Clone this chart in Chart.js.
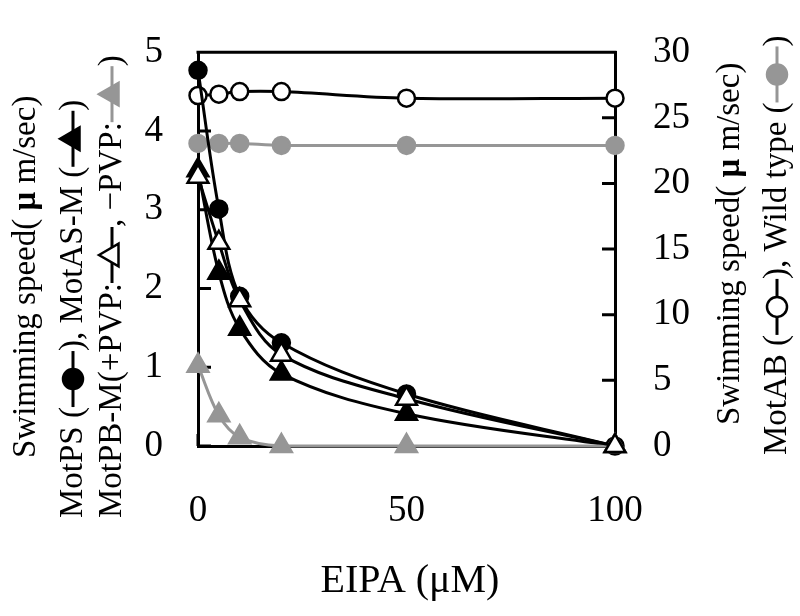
<!doctype html>
<html lang="en">
  <head>
    <meta charset="UTF-8" />
    <title>Swimming speed vs EIPA</title>
    <script src="https://cdn.jsdelivr.net/npm/chart.js@4"></script>
    <style>
      body,
      html {
        margin: 0;
        padding: 0;
        background: #fff;
      }
      #wrap {
        width: 800px;
        height: 616px;
      }
    </style>
  </head>
  <body>
    <div id="wrap"><canvas id="chart" width="800" height="616"></canvas></div>
    <script>
      // EIPA concentration (uM)
      const eipa = [0, 5, 10, 20, 50, 100];

      // left axis (um/sec)
      const motPS = [4.77, 3.01, 1.9, 1.31, 0.66, 0];
      const motASM = [3.5, 2.2, 1.49, 0.92, 0.41, 0];
      const motPBplusPVP = [3.42, 2.58, 1.85, 1.16, 0.6, 0];
      const motPBminusPVP = [1.02, 0.39, 0.11, 0, 0, 0];

      // right axis (um/sec)
      const motAB = [26.7, 26.8, 27.0, 27.0, 26.5, 26.5];
      const wildType = [23.05, 23.05, 23.05, 22.9, 22.9, 22.9];

      const xTicks = [0, 50, 100];
      const leftTicks = [0, 1, 2, 3, 4, 5];
      const rightTicks = [0, 5, 10, 15, 20, 25, 30];

      const BLACK = "#000000";
      const GREY = "#969696";
      const SERIF = "'Liberation Serif', 'Times New Roman', serif";

      const pts = (ys) => eipa.map((x, i) => ({ x: x, y: ys[i] }));

      function series(label, ys, axis, shape, fill, stroke, order) {
        const tri = shape === "triangle";
        return {
          label: label,
          data: pts(ys),
          yAxisID: axis,
          borderColor: stroke,
          borderWidth: 3,
          pointStyle: shape,
          pointRadius: tri ? 12 : 8.5,
          pointBorderWidth: 2.5,
          pointBackgroundColor: fill,
          pointBorderColor: stroke,
          tension: 0.35,
          clip: false,
          order: order,
        };
      }

      // symbols used inside the rotated axis titles
      const symbols = {
        motPS: { shape: "circle", fill: BLACK, stroke: BLACK },
        motASM: { shape: "triangle", fill: BLACK, stroke: BLACK },
        plusPVP: { shape: "triangle", fill: "#fff", stroke: BLACK },
        minusPVP: { shape: "triangle", fill: GREY, stroke: GREY },
        motAB: { shape: "circle", fill: "#fff", stroke: BLACK },
        wild: { shape: "circle", fill: GREY, stroke: GREY },
      };

      function drawSymbol(ctx, x0, len, sym) {
        ctx.strokeStyle = sym.stroke;
        ctx.fillStyle = sym.fill;
        ctx.lineWidth = 3;
        ctx.beginPath();
        ctx.moveTo(x0, 0);
        ctx.lineTo(x0 + len, 0);
        ctx.stroke();
        const cx = x0 + len / 2;
        ctx.beginPath();
        if (sym.shape === "circle") {
          ctx.arc(cx, 0, 10, 0, Math.PI * 2);
        } else {
          const r = 13;
          ctx.moveTo(cx, -r);
          ctx.lineTo(cx + r * 0.866, r / 2);
          ctx.lineTo(cx - r * 0.866, r / 2);
          ctx.closePath();
        }
        ctx.fill();
        ctx.lineWidth = 2.5;
        ctx.stroke();
      }

      // draws one line of text turned 90 degrees, reading bottom to top
      function drawRotated(ctx, x, y, parts, size) {
        ctx.save();
        ctx.translate(x, y);
        ctx.rotate(-Math.PI / 2);
        ctx.textBaseline = "middle";
        ctx.textAlign = "left";
        ctx.fillStyle = BLACK;
        let cur = 0;
        parts.forEach((p) => {
          if (typeof p === "string") {
            ctx.font = size + "px " + SERIF;
            ctx.fillStyle = BLACK;
            ctx.fillText(p, cur, 0);
            cur += ctx.measureText(p).width;
          } else if (p.bold) {
            ctx.font = "bold " + size + "px " + SERIF;
            ctx.fillStyle = BLACK;
            ctx.fillText(p.bold, cur, 0);
            cur += ctx.measureText(p.bold).width;
          } else {
            drawSymbol(ctx, cur, 56, p);
            cur += 56;
          }
        });
        ctx.restore();
      }

      const framePlugin = {
        id: "frame",
        beforeDatasetsDraw(chart) {
          const { ctx, chartArea: a, scales } = chart;
          ctx.save();
          ctx.strokeStyle = BLACK;
          ctx.lineWidth = 3;
          ctx.beginPath();
          ctx.moveTo(a.left - 1.5, a.top);
          ctx.lineTo(a.right + 1.5, a.top);
          leftTicks.forEach((v) => {
            const y = scales.y.getPixelForValue(v);
            ctx.moveTo(a.left, y);
            ctx.lineTo(a.left + 13, y);
          });
          rightTicks.forEach((v) => {
            const y = scales.y2.getPixelForValue(v);
            ctx.moveTo(a.right, y);
            ctx.lineTo(a.right - 13, y);
          });
          xTicks.forEach((v) => {
            const x = scales.x.getPixelForValue(v);
            ctx.moveTo(x, a.bottom);
            ctx.lineTo(x, a.bottom - 12);
          });
          ctx.stroke();
          ctx.restore();
        },
        afterDraw(chart) {
          const ctx = chart.ctx;
          const size = 33;
          // x axis title
          ctx.save();
          ctx.font = "40px " + SERIF;
          ctx.fillStyle = BLACK;
          ctx.textAlign = "center";
          ctx.textBaseline = "alphabetic";
          ctx.fillText("EIPA (\u03bcM)", 410, 592);
          ctx.restore();

          // left title
          drawRotated(ctx, 26, 458, ["Swimming speed( ", { bold: "\u03bc" }, " m/sec)"], size);
          drawRotated(ctx, 73, 518, ["MotPS (", symbols.motPS, "), MotAS-M (", symbols.motASM, ")"], size);
          drawRotated(ctx, 112, 518, ["MotPB-M(+PVP:", symbols.plusPVP, ", \u2212PVP:", symbols.minusPVP, ")"], size);

          // right title
          drawRotated(ctx, 730, 425, ["Swimming speed( ", { bold: "\u03bc" }, " m/sec)"], size);
          drawRotated(ctx, 777, 455, ["MotAB (", symbols.motAB, "), Wild type (", symbols.wild, ")"], size);
        },
      };

      new Chart(document.getElementById("chart"), {
        type: "line",
        data: {
          datasets: [
            series("Wild type", wildType, "y2", "circle", GREY, GREY, 6),
            series("MotAB", motAB, "y2", "circle", "#fff", BLACK, 5),
            series("MotPS", motPS, "y", "circle", BLACK, BLACK, 4),
            series("MotAS-M", motASM, "y", "triangle", BLACK, BLACK, 3),
            series("MotPB-M -PVP", motPBminusPVP, "y", "triangle", GREY, GREY, 2),
            series("MotPB-M +PVP", motPBplusPVP, "y", "triangle", "#fff", BLACK, 1),
          ],
        },
        options: {
          responsive: false,
          animation: false,
          layout: { padding: { top: 24, left: 0, right: 0, bottom: 0 } },
          plugins: {
            legend: { display: false },
            tooltip: { enabled: false },
          },
          scales: {
            x: {
              type: "linear",
              min: 0,
              max: 100,
              afterBuildTicks: (s) => {
                s.ticks = xTicks.map((v) => ({ value: v }));
              },
              afterFit: (s) => {
                s.height = 170;
              },
              grid: { display: false },
              border: { display: true, color: BLACK, width: 3 },
              ticks: {
                color: BLACK,
                padding: 35,
                maxRotation: 0,
                font: { family: SERIF, size: 37 },
              },
            },
            y: {
              position: "left",
              min: 0,
              max: 5,
              afterBuildTicks: (s) => {
                s.ticks = leftTicks.map((v) => ({ value: v }));
              },
              afterFit: (s) => {
                s.width = 198;
              },
              grid: { display: false },
              border: { display: true, color: BLACK, width: 3 },
              ticks: {
                color: BLACK,
                padding: 27,
                font: { family: SERIF, size: 37 },
              },
            },
            y2: {
              position: "right",
              min: 0,
              max: 30,
              afterBuildTicks: (s) => {
                s.ticks = rightTicks.map((v) => ({ value: v }));
              },
              afterFit: (s) => {
                s.width = 185;
              },
              grid: { display: false },
              border: { display: true, color: BLACK, width: 3 },
              ticks: {
                color: BLACK,
                padding: 30,
                font: { family: SERIF, size: 37 },
              },
            },
          },
        },
        plugins: [framePlugin],
      });
    </script>
  </body>
</html>
